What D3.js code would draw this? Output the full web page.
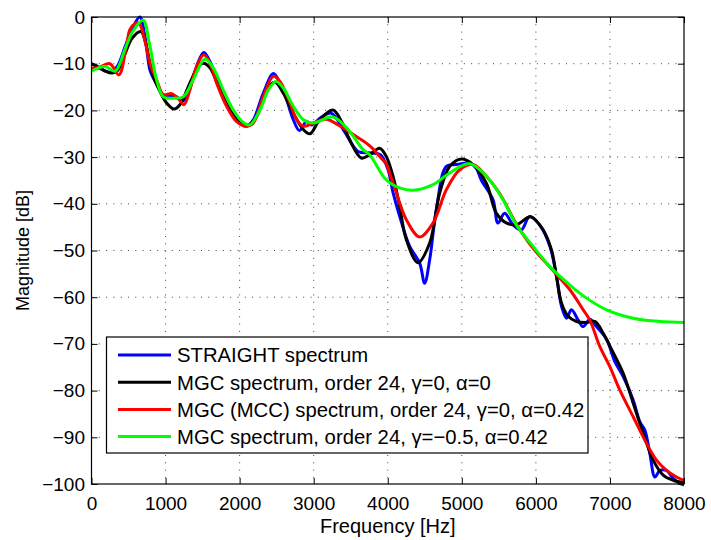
<!DOCTYPE html>
<html>
<head>
<meta charset="utf-8">
<script src="https://cdn.jsdelivr.net/npm/d3@7"></script>
<style>
    body { margin: 0; background: #fff; }
    svg { display: block; font-family: "Liberation Sans", Arial, Helvetica, sans-serif; }
    .grid line { stroke: #444; stroke-width: 1; stroke-dasharray: 1, 6.3; }
    .axis text { font-size: 19px; fill: #000; }
    .axis line { stroke: #000; }
</style>
</head>
<body>
<svg width="711" height="540"></svg>
<script>
// values (Hz / dB)
const xTicks = [0, 1000, 2000, 3000, 4000, 5000, 6000, 7000, 8000];
const yTicks = [0, -10, -20, -30, -40, -50, -60, -70, -80, -90, -100];

const straightFreq = [0, 100, 250, 350, 450, 550, 653, 720, 788, 833, 923, 968, 1060, 1150, 1216, 1284, 1374, 1464, 1518, 1599, 1689, 1779, 1870, 1982, 2095, 2185, 2320, 2455, 2545, 2635, 2725, 2807, 2900, 2970, 3100, 3239, 3418, 3600, 3778, 3900, 4000, 4070, 4161, 4296, 4431, 4498, 4566, 4656, 4791, 4926, 5106, 5196, 5263, 5421, 5488, 5578, 5691, 5803, 5916, 6050, 6189, 6279, 6347, 6414, 6481, 6571, 6639, 6729, 6819, 6954, 7067, 7179, 7314, 7404, 7472, 7539, 7607, 7674, 7764, 7854, 7944, 8000];
const straightDb = [-11.3, -11.0, -11.8, -10.5, -6.5, -2.5, 0, -4, -11.3, -13, -15.6, -17, -16.9, -17.1, -18.1, -17.1, -12.7, -8.8, -7.6, -9.5, -13.4, -17.4, -20.2, -22.4, -23.4, -22, -16.3, -12.1, -14.1, -17.7, -22, -24.3, -22.4, -23.1, -21.5, -20.6, -24.6, -28.8, -29.1, -29.5, -32.5, -37.5, -42.7, -49.1, -52.7, -57, -52, -41.3, -32, -31.6, -31.3, -32.4, -34.9, -39.1, -44.1, -42, -44.5, -45.6, -42.7, -44.5, -49.1, -55.6, -62, -64.5, -62.7, -64.9, -66.3, -64.7, -66.3, -69, -73.8, -77, -82, -86.7, -88.5, -93.5, -98.5, -97.1, -97.1, -98.8, -99.9, -100.2];

const mgcFreq = [0, 100, 200, 280, 350, 450, 550, 667, 730, 790, 833, 923, 1014, 1117, 1194, 1329, 1441, 1509, 1599, 1734, 1870, 2005, 2095, 2230, 2365, 2478, 2590, 2725, 2861, 2950, 3081, 3261, 3380, 3486, 3643, 3756, 3891, 3981, 4071, 4160, 4251, 4408, 4566, 4701, 4836, 4993, 5151, 5331, 5466, 5601, 5736, 5930, 6099, 6211, 6279, 6347, 6436, 6549, 6684, 6796, 6909, 7000, 7179, 7314, 7449, 7584, 7719, 7854, 8000];
const mgcDb = [-10, -10.8, -11.7, -12, -11.5, -8, -4.5, -3.1, -5.5, -10, -12.7, -15.9, -18.4, -19.7, -18.8, -14.1, -10.6, -9.9, -10.9, -15.6, -19.9, -22.7, -23.3, -21.3, -15.6, -14, -16.3, -20.6, -24.1, -25, -22, -19.9, -22.5, -26.3, -30.2, -29.5, -28.1, -29.9, -34.1, -40.5, -47.7, -52.6, -48.4, -37.7, -32, -30.4, -31.6, -35.6, -42, -44.1, -44.5, -42.8, -45.6, -49.9, -55.6, -61.3, -64.1, -65.2, -65.4, -65.2, -67.7, -70.5, -76.3, -82.7, -89.1, -94.9, -98.1, -99.2, -99.7];

const mccFreq = [0, 100, 248, 370, 473, 518, 580, 640, 720, 788, 878, 968, 1081, 1171, 1248, 1329, 1419, 1518, 1599, 1689, 1824, 1960, 2095, 2185, 2320, 2455, 2545, 2680, 2770, 2861, 2996, 3171, 3350, 3576, 3711, 3800, 3891, 3981, 4048, 4093, 4251, 4431, 4611, 4791, 4971, 5151, 5331, 5511, 5736, 5961, 6186, 6459, 6639, 6729, 6864, 7000, 7134, 7314, 7494, 7629, 7764, 7899, 8000];
const mccDb = [-11, -10.8, -10, -12.4, -6, -2.7, -1.5, -1.3, -5, -9.9, -13.4, -16.6, -16.4, -17.4, -18.8, -15.6, -10.6, -8.1, -9.9, -14.1, -19.1, -22.4, -23.4, -22.7, -17, -12.7, -13.8, -18.4, -22, -23.4, -22.7, -21.9, -23.3, -25.6, -27, -28.2, -29.9, -31.5, -34.5, -36.5, -43.4, -47.1, -44.1, -37, -32.7, -31.6, -34.1, -37.8, -44.3, -49.5, -53.5, -58.4, -62.7, -64.9, -70.6, -74.9, -79.9, -85.6, -91.3, -94.9, -97.1, -98.5, -99.2];

const mgcNegFreq = [0, 180, 320, 450, 560, 698, 780, 878, 968, 1104, 1239, 1374, 1532, 1644, 1779, 1915, 2050, 2140, 2275, 2388, 2491, 2590, 2725, 2861, 2996, 3261, 3486, 3666, 3756, 3981, 4161, 4341, 4611, 4836, 5106, 5331, 5556, 5736, 5961, 6186, 6459, 6684, 6954, 7314, 7674, 8000];
const mgcNegDb = [-11.6, -10.6, -11.6, -7, -3, -0.7, -5.5, -13.4, -17.1, -17.4, -17.1, -13.4, -9, -10.9, -15.6, -19.9, -22.6, -23.1, -19.9, -15.6, -13.8, -15.2, -19.1, -22, -22.7, -21.4, -24.5, -28.4, -29.5, -34.9, -36.6, -37.1, -35.9, -33.4, -31.4, -34.1, -39.1, -44.5, -49.1, -53.4, -57.4, -60.2, -62.7, -64.5, -65.2, -65.4];

const seriesNames = [
    "STRAIGHT spectrum",
    "MGC spectrum, order 24, \u03b3=0, \u03b1=0",
    "MGC (MCC) spectrum, order 24, \u03b3=0, \u03b1=0.42",
    "MGC spectrum, order 24, \u03b3=\u22120.5, \u03b1=0.42"
];
const seriesColors = ["#0000ff", "#000000", "#ff0000", "#00ff00"];

var series = [
    {freq: straightFreq, db: straightDb},
    {freq: mgcFreq, db: mgcDb},
    {freq: mccFreq, db: mccDb},
    {freq: mgcNegFreq, db: mgcNegDb}
].map(function (s, i) {
    return {
        name: seriesNames[i],
        color: seriesColors[i],
        points: s.freq.map(function (f, j) { return [f, s.db[j]]; })
    };
});

var svg = d3.select("svg"),
    plotLeft = 91.5, plotTop = 17, plotRight = 684, plotBottom = 484;

var x = d3.scaleLinear().domain([0, 8000]).range([plotLeft, plotRight]);
var y = d3.scaleLinear().domain([-100, 0]).range([plotBottom, plotTop]);

// dotted grid
var grid = svg.append("g").attr("class", "grid");
grid.selectAll("line.v")
    .data(xTicks.slice(1, -1))
    .enter().append("line")
    .attr("x1", d => x(d)).attr("x2", d => x(d))
    .attr("y1", plotTop).attr("y2", plotBottom);
grid.selectAll("line.h")
    .data(yTicks.slice(1, -1))
    .enter().append("line")
    .attr("x1", plotLeft).attr("x2", plotRight)
    .attr("y1", d => y(d)).attr("y2", d => y(d));

// curves
var line = d3.line()
    .x(d => x(d[0]))
    .y(d => y(d[1]))
    .curve(d3.curveCatmullRom.alpha(0.5));

svg.append("defs").append("clipPath").attr("id", "plot-clip")
    .append("rect")
    .attr("x", plotLeft).attr("y", plotTop - 3)
    .attr("width", plotRight - plotLeft).attr("height", plotBottom - plotTop + 6);

svg.append("g")
    .attr("clip-path", "url(#plot-clip)")
    .selectAll("path")
    .data(series)
    .enter().append("path")
    .attr("d", d => line(d.points))
    .attr("fill", "none")
    .attr("stroke", d => d.color)
    .attr("stroke-width", 3)
    .attr("stroke-linejoin", "round");

// axes, ticks pointing inward on all four sides
svg.append("g").attr("class", "axis")
    .attr("transform", "translate(0," + plotBottom + ")")
    .call(d3.axisBottom(x).tickValues(xTicks).tickFormat(d3.format("d"))
        .tickSizeInner(-6).tickSizeOuter(0).tickPadding(12.5));
svg.append("g").attr("class", "axis")
    .attr("transform", "translate(0," + plotTop + ")")
    .call(d3.axisTop(x).tickValues(xTicks).tickSizeInner(-6).tickSizeOuter(0).tickFormat(""));
svg.append("g").attr("class", "axis")
    .attr("transform", "translate(" + plotLeft + ",0)")
    .call(d3.axisLeft(y).tickValues(yTicks).tickFormat(d3.format("d"))
        .tickSizeInner(-6).tickSizeOuter(0).tickPadding(6.5));
svg.append("g").attr("class", "axis")
    .attr("transform", "translate(" + plotRight + ",0)")
    .call(d3.axisRight(y).tickValues(yTicks).tickSizeInner(-6).tickSizeOuter(0).tickFormat(""));
svg.selectAll(".axis .domain").remove();

svg.append("rect")
    .attr("x", plotLeft).attr("y", plotTop)
    .attr("width", plotRight - plotLeft).attr("height", plotBottom - plotTop)
    .attr("fill", "none")
    .attr("stroke", "#000")
    .attr("stroke-width", 1.2);

// axis labels
svg.append("text")
    .attr("x", (plotLeft + plotRight) / 2)
    .attr("y", 533)
    .attr("text-anchor", "middle")
    .attr("font-size", "20px")
    .text("Frequency [Hz]");

svg.append("text")
    .attr("transform", "translate(29," + ((plotTop + plotBottom) / 2) + ") rotate(-90)")
    .attr("text-anchor", "middle")
    .attr("font-size", "18px")
    .text("Magnitude [dB]");

// legend
var legend = svg.append("g");
legend.append("rect")
    .attr("x", 106.5).attr("y", 337)
    .attr("width", 481.5).attr("height", 116)
    .attr("fill", "#fff")
    .attr("stroke", "#000")
    .attr("stroke-width", 1.2);

var rows = legend.selectAll("g.row")
    .data(series)
    .enter().append("g")
    .attr("transform", (d, i) => "translate(0," + (355 + i * 27.2) + ")");
rows.append("line")
    .attr("x1", 118).attr("x2", 171)
    .attr("stroke", d => d.color)
    .attr("stroke-width", 3);
rows.append("text")
    .attr("x", 177)
    .attr("dy", "0.36em")
    .attr("font-size", "20.3px")
    .text(d => d.name);
</script>
</body>
</html>
